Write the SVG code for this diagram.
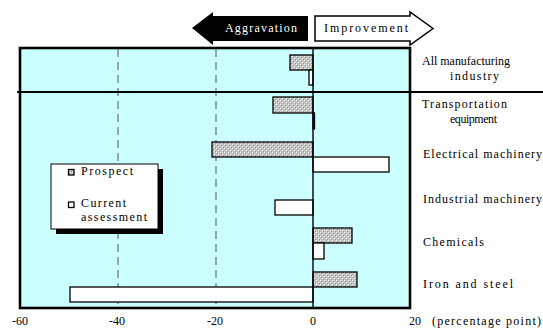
<svg xmlns="http://www.w3.org/2000/svg" width="543" height="329" viewBox="0 0 543 329">
<style>
text{font-family:"Liberation Serif","Times New Roman",serif;font-size:12px;fill:#000}
.bar{stroke:#000;stroke-width:1.3}
.cur{fill:#fff}
.pro{fill:url(#hatch)}
.dash{stroke:#555;stroke-width:1;stroke-dasharray:8,5}
</style>
<defs>
<pattern id="hatch" width="4" height="4" patternUnits="userSpaceOnUse">
<rect width="4" height="4" fill="#c4c4c4"/>
<rect x="0" y="0" width="1" height="1" fill="#f2f2f2"/>
<rect x="2" y="2" width="1" height="1" fill="#f2f2f2"/>
<rect x="1" y="1" width="1" height="1" fill="#9a9a9a"/>
<rect x="3" y="3" width="1" height="1" fill="#9a9a9a"/>
</pattern>
</defs>
<g id="arrows">
<polygon points="192,28 213,12 213,16 308,16 308,41 213,41 213,45" fill="#000"/>
<text x="225" y="32" textLength="72" lengthAdjust="spacing" style="fill:#fff">Aggravation</text>
<polygon points="315,16 410,16 410,12 433,28.5 410,45 410,41 315,41" fill="#fff" stroke="#000" stroke-width="1.5"/>
<text x="324" y="32" textLength="84" lengthAdjust="spacing">Improvement</text>
</g>
<g id="plot">
<rect x="20" y="48" width="390" height="260" fill="#ccffff"/>
<line class="dash" x1="118" y1="49" x2="118" y2="308"/>
<line class="dash" x1="216" y1="49" x2="216" y2="308"/>
</g>
<g id="bars">
<rect class="bar pro" x="290" y="55" width="23" height="15"/>
<rect class="bar cur" x="309" y="70" width="4" height="15"/>
<rect class="bar pro" x="273" y="97" width="40" height="16"/>
<rect class="bar cur" x="313" y="113" width="1.5" height="16" stroke-width="1.8"/>
<rect class="bar pro" x="212" y="142" width="101" height="15"/>
<rect class="bar cur" x="313" y="157" width="76" height="15"/>
<rect class="bar cur" x="275" y="200" width="38" height="15"/>
<rect class="bar pro" x="313" y="228" width="39" height="15"/>
<rect class="bar cur" x="313" y="243" width="11" height="16"/>
<rect class="bar pro" x="313" y="272" width="44" height="15"/>
<rect class="bar cur" x="70" y="287" width="243" height="15"/>
</g>
<g id="frame">
<line x1="313" y1="48" x2="313" y2="308" stroke="#000" stroke-width="1.4"/>
<rect x="20" y="48" width="390" height="260" fill="none" stroke="#000" stroke-width="2.6"/>
<line x1="17" y1="92" x2="543" y2="92" stroke="#000" stroke-width="2.2"/>
</g>
<g id="legend">
<rect x="56" y="169" width="107" height="65" fill="#000"/>
<rect x="51" y="164" width="107" height="65" fill="#fff" stroke="#000" stroke-width="1"/>
<rect x="68.5" y="169.5" width="5.5" height="5.5" fill="url(#hatch)" stroke="#000" stroke-width="1.3"/>
<text x="81" y="175" textLength="52" lengthAdjust="spacing">Prospect</text>
<rect x="68.5" y="202" width="5.5" height="5.5" fill="#fff" stroke="#000" stroke-width="1.3"/>
<text x="81" y="207" textLength="45" lengthAdjust="spacing">Current</text>
<text x="81" y="221" textLength="66" lengthAdjust="spacing">assessment</text>
</g>
<g id="labels">
<text x="422" y="65" textLength="88" lengthAdjust="spacing">All manufacturing</text>
<text x="450" y="80" textLength="49" lengthAdjust="spacing">industry</text>
<text x="422" y="108" textLength="85" lengthAdjust="spacing">Transportation</text>
<text x="450" y="123" textLength="47" lengthAdjust="spacing">equipment</text>
<text x="423" y="158" textLength="119" lengthAdjust="spacing">Electrical machinery</text>
<text x="423" y="203" textLength="119" lengthAdjust="spacing">Industrial machinery</text>
<text x="423" y="246" textLength="61" lengthAdjust="spacing">Chemicals</text>
<text x="423" y="288" textLength="90" lengthAdjust="spacing">Iron and steel</text>
</g>
<g id="axis">
<text x="20" y="325" text-anchor="middle">-60</text>
<text x="117" y="325" text-anchor="middle">-40</text>
<text x="215" y="325" text-anchor="middle">-20</text>
<text x="313" y="325" text-anchor="middle">0</text>
<text x="415" y="325" text-anchor="middle">20</text>
<text x="432" y="325" textLength="109" lengthAdjust="spacing">(percentage point)</text>
</g>
</svg>
